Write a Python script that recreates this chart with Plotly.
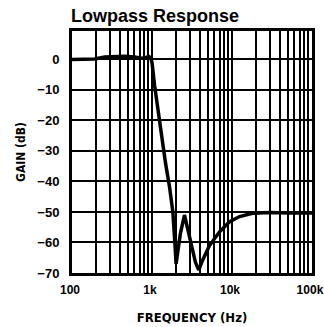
import plotly.graph_objects as go

# Lowpass filter magnitude response
freq_hz = [100, 144, 192, 256, 341, 455, 607, 743, 832, 906, 960, 1000,
           1077, 1181, 1313, 1477, 1662, 1823, 1930, 2001, 2130, 2268,
           2547, 2776, 3114, 3493, 3842, 4263, 5235, 6989, 9331, 12459,
           18056, 29480, 52300, 100000]
gain_db = [0.0, 0.0, 0.1, 0.8, 1.0, 1.0, 0.8, 0.4, 0.5, 1.0, 0.5, -1.0,
           -8.5, -16.6, -25.0, -34.0, -42.0, -50.0, -60.0, -67.0, -62.0, -57.0,
           -51.0, -55.0, -61.0, -66.5, -69.0, -66.0, -61.0, -56.5, -53.2, -51.5,
           -50.4, -50.2, -50.3, -50.3]

# Decade labels; every 1..9 multiple gets a grid line
decades = [100, 1000, 10000]
decade_labels = {100: "100", 1000: "1k", 10000: "10k", 100000: "100k"}
y_ticks = [0, -10, -20, -30, -40, -50, -60, -70]

grid_vals = [m * d for d in decades for m in range(1, 10)] + [100000]
grid_text = [f"<b>{decade_labels[v]}</b>" if v in decade_labels else "" for v in grid_vals]

font_tick = "Liberation Sans, Arial, sans-serif"
font_title = "DejaVu Sans Condensed, Liberation Sans, sans-serif"

fig = go.Figure()
fig.add_trace(go.Scatter(
    x=freq_hz, y=gain_db, mode="lines",
    line=dict(color="black", width=3.5),
    hoverinfo="skip", showlegend=False,
))

fig.update_layout(
    width=324, height=327,
    margin=dict(l=72, r=12, t=31, b=54),
    paper_bgcolor="white", plot_bgcolor="white",
    title=dict(text="<b>Lowpass Response</b>", x=71 / 324, xanchor="left",
               y=1 - 16 / 327, yanchor="middle",
               font=dict(family="Liberation Sans, Arial", size=18, color="black")),
    font=dict(family=font_tick, color="black"),
)

fig.update_xaxes(
    type="log", range=[2, 5.0005], automargin=False,
    tickmode="array", tickvals=grid_vals, ticktext=grid_text,
    showgrid=True, gridcolor="black", gridwidth=1.5,
    showline=True, linecolor="black", linewidth=3, mirror=True,
    ticks="", ticklabelstandoff=4, ticklabelshift=-2, ticklabeloverflow="allow",
    tickfont=dict(family=font_tick, size=12, color="black"),
    title=dict(text="<b>FREQUENCY (Hz)</b>", standoff=17,
               font=dict(family=font_title, size=13, color="black")),
    zeroline=False,
)

fig.update_yaxes(
    range=[-70, 9.3], automargin=False,
    tickmode="array", tickvals=y_ticks,
    ticktext=[f"<b>{'\u2212' if v < 0 else ''}{abs(v)}</b>" for v in y_ticks],
    showgrid=True, gridcolor="black", gridwidth=1.5,
    showline=True, linecolor="black", linewidth=3, mirror=True,
    ticks="", ticklabelstandoff=7,
    tickfont=dict(family=font_tick, size=13, color="black"),
    title=dict(text="<b>GAIN (dB)</b>", standoff=10,
               font=dict(family=font_title, size=12, color="black")),
    zeroline=False,
)

fig.write_html("out.html")
